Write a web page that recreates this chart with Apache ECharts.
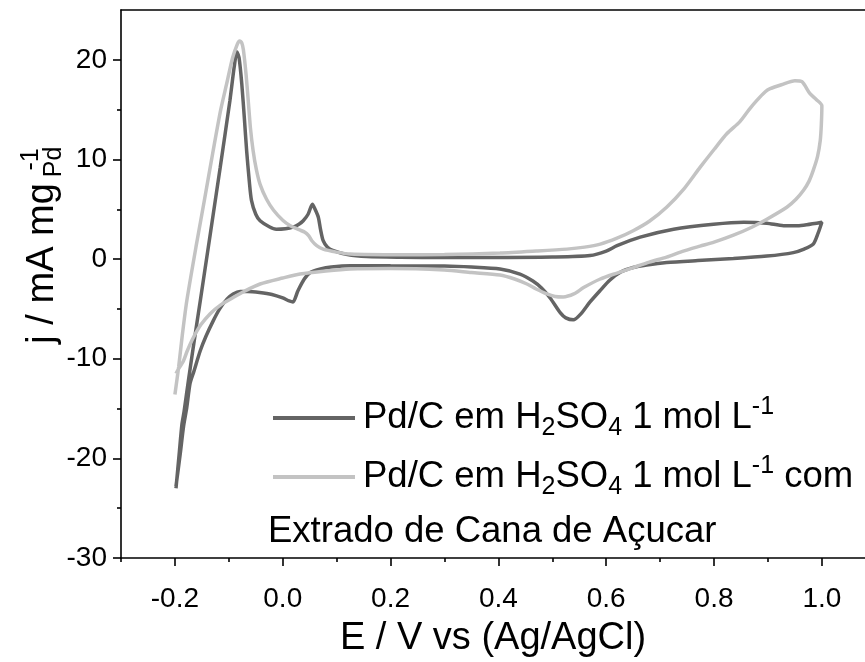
<!DOCTYPE html>
<html>
<head>
<meta charset="utf-8">
<script src="https://cdn.jsdelivr.net/npm/echarts@6/dist/echarts.min.js"></script>
<style>
html,body{margin:0;padding:0;background:#fff}
#chart{width:865px;height:662px}
</style>
</head>
<body>
<div id="chart"></div>
<script>
// Pd/C em H2SO4 (dark curve), anodic then cathodic sweep
const darkE = [-0.198,-0.192,-0.187,-0.183,-0.175,-0.165,-0.153,-0.135,-0.116,-0.098,-0.090,-0.085,-0.081,-0.076,-0.071,-0.067,-0.062,-0.058,-0.050,-0.042,-0.025,-0.012,0.005,0.019,0.030,0.038,0.047,0.055,0.060,0.066,0.070,0.075,0.083,0.094,0.12,0.156,0.218,0.3,0.403,0.5,0.57,0.6,0.62,0.663,0.725,0.799,0.855,0.898,0.929,0.955,0.972,1.0,
  0.993,0.984,0.967,0.947,0.898,0.836,0.77,0.712,0.675,0.65,0.627,0.607,0.588,0.57,0.553,0.539,0.525,0.515,0.496,0.48,0.464,0.44,0.403,0.35,0.3,0.2,0.125,0.09,0.07,0.051,0.04,0.028,0.019,0.012,0.0,-0.02,-0.043,-0.065,-0.079,-0.092,-0.103,-0.117,-0.129,-0.142,-0.153,-0.165,-0.172,-0.178,-0.184,-0.19,-0.198];
const darkJ = [-23.0,-19.5,-16.6,-15.3,-12.2,-8.5,-4.2,2.3,9.2,15.9,19.3,20.8,20.2,17.6,14.0,10.9,7.8,5.9,4.5,3.85,3.25,3.0,3.05,3.2,3.5,3.85,4.5,5.5,5.0,4.2,3.0,1.85,1.2,0.85,0.45,0.25,0.18,0.15,0.16,0.2,0.35,0.8,1.34,2.2,3.0,3.5,3.7,3.6,3.35,3.35,3.45,3.7,
  2.6,1.5,1.0,0.65,0.3,0.05,-0.15,-0.35,-0.6,-0.85,-1.3,-2.1,-3.2,-4.3,-5.5,-6.1,-5.9,-5.4,-3.9,-2.9,-2.2,-1.5,-1.0,-0.8,-0.7,-0.68,-0.67,-0.8,-1.0,-1.35,-2.0,-3.2,-4.3,-4.2,-3.9,-3.55,-3.35,-3.25,-3.25,-3.5,-4.0,-5.0,-6.2,-7.7,-9.2,-11.3,-12.5,-14.9,-16.8,-19.5,-22.8];

// Pd/C em H2SO4 com extrato de cana (light curve)
const lightE = [-0.2,-0.193,-0.186,-0.178,-0.16,-0.145,-0.129,-0.115,-0.104,-0.093,-0.084,-0.080,-0.076,-0.073,-0.068,-0.064,-0.06,-0.055,-0.049,-0.042,-0.03,-0.017,0.0,0.014,0.03,0.041,0.048,0.054,0.063,0.075,0.1,0.125,0.218,0.3,0.403,0.47,0.527,0.56,0.589,0.62,0.65,0.68,0.712,0.745,0.774,0.8,0.824,0.848,0.865,0.879,0.895,0.904,0.925,0.95,0.963,0.978,0.99,1.0,
  0.999,0.997,0.992,0.984,0.976,0.966,0.952,0.935,0.898,0.87,0.836,0.8,0.774,0.74,0.712,0.68,0.65,0.62,0.589,0.558,0.54,0.52,0.505,0.49,0.47,0.453,0.43,0.403,0.35,0.3,0.2,0.125,0.08,0.032,0.0,-0.042,-0.07,-0.092,-0.115,-0.135,-0.152,-0.166,-0.177,-0.184,-0.194,-0.198];
const lightJ = [-13.6,-10.8,-7.5,-4.2,1.5,6.0,10.9,15.0,17.6,20.2,21.6,21.9,21.7,21.0,18.5,15.9,13.2,10.9,9.0,7.5,6.0,4.9,3.9,3.35,2.95,2.7,2.35,1.84,1.35,1.0,0.7,0.5,0.43,0.45,0.6,0.8,1.0,1.2,1.5,2.1,2.85,3.8,5.2,7.1,9.2,11.0,12.6,13.8,15.0,15.9,16.8,17.1,17.5,17.9,17.8,16.6,16.0,15.4,
  13.5,11.9,10.3,8.9,7.8,6.9,6.0,5.2,4.0,3.2,2.4,1.7,1.3,0.75,0.2,-0.3,-0.85,-1.4,-2.0,-2.86,-3.5,-3.8,-3.75,-3.5,-3.0,-2.5,-2.0,-1.6,-1.35,-1.1,-0.95,-1.0,-1.2,-1.5,-1.9,-2.5,-3.2,-3.86,-4.6,-5.5,-6.6,-7.9,-9.2,-10.2,-11.1,-11.5];

const majorX = [-0.2, 0, 0.2, 0.4, 0.6, 0.8, 1.0];
const minorX = [-0.3, -0.1, 0.1, 0.3, 0.5, 0.7, 0.9];
const majorY = [-30, -20, -10, 0, 10, 20];
const minorY = [-25, -15, -5, 5, 15];

const seriesNames = ['Pd/C em H2SO4 1 mol L-1', 'Pd/C em H2SO4 1 mol L-1 com'];
const legendLabels = [
  'Pd/C em H{sub|2}SO{sub|4} 1 mol L{sup|-1}',
  'Pd/C em H{sub|2}SO{sub|4} 1 mol L{sup|-1} com'
];
const extraLine = 'Extrado de Cana de Açucar';

const font = "'Liberation Sans', Arial, sans-serif";
const black = '#000';

function pairs(xs, ys) {
  return xs.map((x, i) => [x, ys[i]]);
}

const chart = echarts.init(document.getElementById('chart'));

const tickStyle = { color: black, width: 1.6 };

const option = {
  backgroundColor: '#fff',
  animation: false,
  grid: [
    { left: 121, right: 0, top: 10, bottom: 104, outerBoundsMode: 'none', containLabel: false },
    { left: 121, right: 0, top: 10, bottom: 104, outerBoundsMode: 'none', containLabel: false }
  ],
  xAxis: [
    {
      type: 'value', gridIndex: 0, position: 'bottom',
      min: -0.3, max: 1.08,
      axisLine: { onZero: false, lineStyle: tickStyle },
      axisTick: { show: true, length: 8, customValues: majorX, lineStyle: tickStyle },
      axisLabel: { customValues: majorX, formatter: v => v.toFixed(1), color: black, fontSize: 28, fontFamily: font, margin: 27 },
      splitLine: { show: false },
      name: 'E / V vs (Ag/AgCl)', nameLocation: 'middle', nameGap: 62, nameMoveOverlap: false,
      nameTextStyle: { color: black, fontSize: 38, fontFamily: font }
    },
    {
      type: 'value', gridIndex: 0, position: 'top',
      min: -0.3, max: 1.08,
      axisLine: { onZero: false, lineStyle: tickStyle },
      axisTick: { show: false }, axisLabel: { show: false }, splitLine: { show: false }
    },
    {
      type: 'value', gridIndex: 1, position: 'bottom',
      min: -0.3, max: 1.08,
      axisLine: { show: false, onZero: false },
      axisTick: { show: true, length: 4, customValues: minorX, lineStyle: tickStyle },
      axisLabel: { show: false }, splitLine: { show: false }
    }
  ],
  yAxis: [
    {
      type: 'value', gridIndex: 0, position: 'left',
      min: -30, max: 25,
      axisLine: { show: true, onZero: false, lineStyle: tickStyle },
      axisTick: { show: true, length: 8, customValues: majorY, lineStyle: tickStyle },
      axisLabel: { customValues: majorY, color: black, fontSize: 28, fontFamily: font, margin: 14 },
      splitLine: { show: false },
      name: 'j / mA mg{sub|Pd}{sup|-1}', nameLocation: 'middle', nameGap: 54, nameRotate: 90,
      nameMoveOverlap: false,
      nameTextStyle: {
        color: black, fontSize: 38, fontFamily: font, lineHeight: 48,
        padding: [0, 0, 0, 76],
        rich: {
          sub: { fontSize: 25, lineHeight: 22, verticalAlign: 'bottom', fontFamily: font, color: black, padding: [0, 0, 0, 6] },
          sup: { fontSize: 25, lineHeight: 22, verticalAlign: 'top', fontFamily: font, color: black, padding: [0, 0, 0, -24] }
        }
      }
    },
    {
      type: 'value', gridIndex: 1, position: 'left',
      min: -30, max: 25,
      axisLine: { show: false, onZero: false },
      axisTick: { show: true, length: 4, customValues: minorY, lineStyle: tickStyle },
      axisLabel: { show: false }, splitLine: { show: false }
    }
  ],
  legend: {
    orient: 'vertical', left: 268, top: 390, itemGap: 13,
    itemWidth: 82, itemHeight: 4, icon: 'rect',
    data: seriesNames,
    formatter: name => legendLabels[seriesNames.indexOf(name)],
    textStyle: {
      color: black, fontSize: 36.5, fontFamily: font, lineHeight: 46, padding: [0, 0, 0, 3],
      rich: {
        sub: { fontSize: 25, lineHeight: 20, verticalAlign: 'bottom', fontFamily: font, color: black },
        sup: { fontSize: 25, lineHeight: 20, verticalAlign: 'top', fontFamily: font, color: black }
      }
    }
  },
  graphic: [
    {
      type: 'text', left: 268, top: 513,
      style: { text: extraLine, fill: black, font: '36.5px ' + font }
    }
  ],
  series: [
    {
      name: seriesNames[0], type: 'line', xAxisIndex: 0, yAxisIndex: 0,
      data: pairs(darkE, darkJ), showSymbol: false, smooth: 0.25,
      lineStyle: { color: '#646464', width: 3.5 }, itemStyle: { color: '#646464' }
    },
    {
      name: seriesNames[1], type: 'line', xAxisIndex: 0, yAxisIndex: 0,
      data: pairs(lightE, lightJ), showSymbol: false, smooth: 0.25,
      lineStyle: { color: '#c3c3c3', width: 3.5 }, itemStyle: { color: '#c3c3c3' }
    }
  ]
};

chart.setOption(option);
</script>
</body>
</html>
